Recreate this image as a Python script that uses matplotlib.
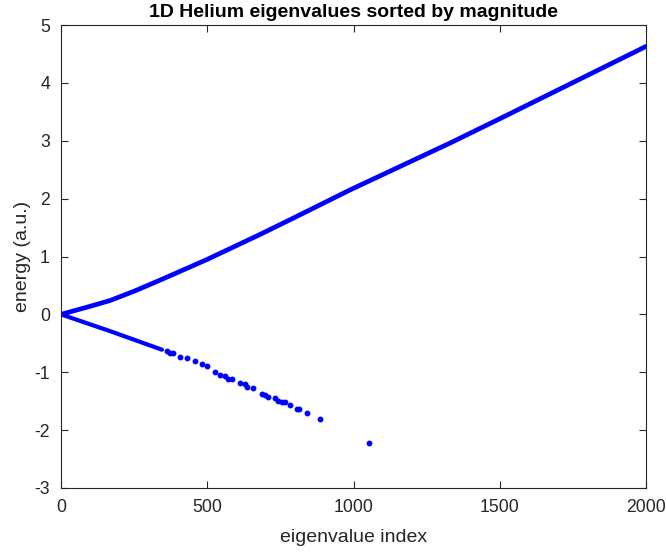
import matplotlib
matplotlib.use("Agg")
import matplotlib.pyplot as plt

# Positive branch (dense, drawn as a thick dotted band)
pos_index = [0, 100, 168, 250, 338, 500, 680, 793, 988, 1330, 1500, 2000]
pos_energy = [0.0, 0.14, 0.24, 0.40, 0.59, 0.95, 1.38, 1.66, 2.15, 2.96, 3.38, 4.63]

# Negative branch, dense part near the origin
neg_dense_index = [0, 168, 345]
neg_dense_energy = [0.0, -0.29, -0.61]

# Negative branch, individually visible points
neg_index = [362, 373, 383, 407, 431, 458, 482, 499, 526, 544, 561, 571, 585,
             612, 629, 636, 656, 687, 697, 708, 732, 742, 756, 766, 783, 807,
             814, 841, 885, 1053]
neg_energy = [-0.64, -0.67, -0.67, -0.73, -0.76, -0.81, -0.85, -0.90, -1.00,
              -1.04, -1.07, -1.11, -1.12, -1.19, -1.21, -1.25, -1.28, -1.37,
              -1.40, -1.42, -1.45, -1.49, -1.51, -1.52, -1.56, -1.63, -1.64,
              -1.71, -1.80, -2.23]

x_ticks = [0, 500, 1000, 1500, 2000]
y_ticks = [-3, -2, -1, 0, 1, 2, 3, 4, 5]

plt.rcParams['font.family'] = ['Liberation Sans', 'DejaVu Sans']

fig = plt.figure(figsize=(6.66, 5.52), dpi=100)
ax = fig.add_axes([61/666, 1 - 488/552, (646-61)/666, (488-25)/552])

blue = (0, 0, 1)
ax.plot(pos_index, pos_energy, color=blue, lw=3.4, solid_capstyle='round')
ax.plot(neg_dense_index, neg_dense_energy, color=blue, lw=3.0, solid_capstyle='round')
ax.plot(neg_index, neg_energy, linestyle='none', marker='o', ms=3.2,
        color=blue, mec=blue)

ax.set_xlim(0, 2000)
ax.set_ylim(-3, 5)
ax.set_xticks(x_ticks)
ax.set_yticks(y_ticks)
ax.set_xticklabels([str(t) for t in x_ticks])
ax.set_yticklabels([str(t) for t in y_ticks])

dark = (0.15, 0.15, 0.15)
for s in ax.spines.values():
    s.set_color(dark)
    s.set_linewidth(0.8)
ax.tick_params(direction='in', top=True, right=True, length=5, width=0.8,
               color=dark, labelcolor=dark, labelsize=12.7)
ax.tick_params(axis='x', pad=8)
ax.tick_params(axis='y', pad=8)

ax.set_xlabel('eigenvalue index', fontsize=14, color=dark, labelpad=9)
ax.set_ylabel('energy (a.u.)', fontsize=14, color=dark, labelpad=2)
ax.set_title('1D Helium eigenvalues sorted by magnitude', fontsize=14,
             fontweight='bold', color='black', pad=6)

fig.savefig('out.png', dpi=100)
